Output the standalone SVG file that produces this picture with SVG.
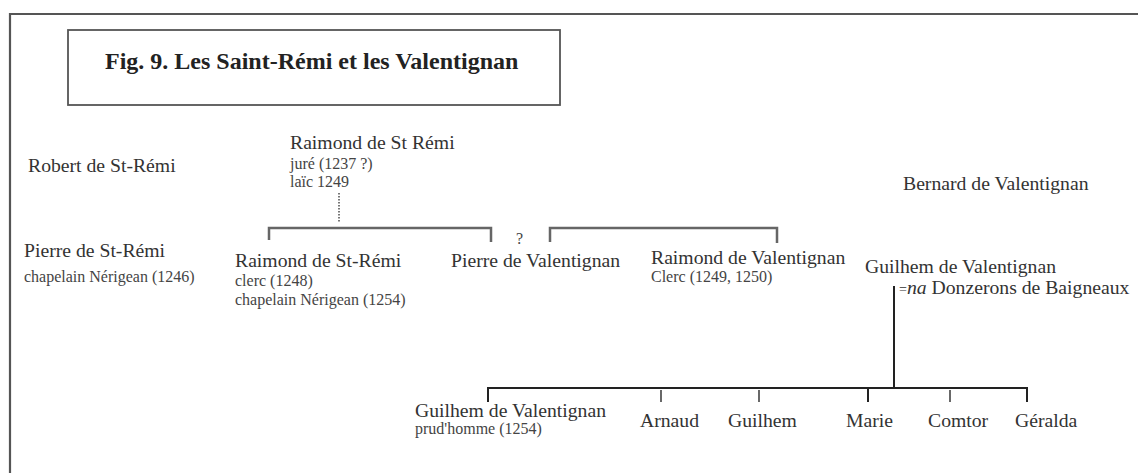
<svg xmlns="http://www.w3.org/2000/svg" width="1138" height="473" viewBox="0 0 1138 473">
<style>
text{font-family:"Liberation Serif","Times New Roman",serif;fill:#333}
.n{font-size:19.7px}
.s{font-size:16px;fill:#444}
.t{font-size:24px;font-weight:bold;fill:#222}
.br{fill:none;stroke:#666;stroke-width:2.5}
.bk{fill:none;stroke:#222;stroke-width:2}
.tk{fill:none;stroke:#444;stroke-width:1.6}
</style>
<rect x="0" y="0" width="1138" height="473" fill="#fff"/>
<g id="frame">
<path d="M10,480 V14 H1145" fill="none" stroke="#555" stroke-width="2.2"/>
</g>
<g id="title">
<rect x="68" y="30" width="492" height="75" fill="none" stroke="#555" stroke-width="1.8"/>
<text class="t" x="105" y="69">Fig. 9. Les Saint-Rémi et les Valentignan</text>
</g>
<g id="connectors">
<path d="M339,193 V223" fill="none" stroke="#777" stroke-width="2" stroke-dasharray="1.5,1.5"/>
<path class="br" d="M269,240 V228 H491 V242"/>
<path class="br" d="M550,242 V228 H777 V243"/>
<path class="bk" d="M894,286 V388"/>
<path class="bk" d="M488,402 V388 H1027 V402"/>
<path class="bk" d="M868,388 V402"/>
<path class="tk" d="M661,390 V402 M759,390 V402 M950,390 V402"/>
</g>
<g id="robert"><text class="n" x="28" y="172">Robert de St-Rémi</text></g>
<g id="pierre-st-remi">
<text class="n" x="24" y="257">Pierre de St-Rémi</text>
<text class="s" x="24" y="282">chapelain Nérigean (1246)</text>
</g>
<g id="raimond-st-remi-pere">
<text class="n" x="290" y="149">Raimond de St Rémi</text>
<text class="s" x="290" y="169">juré (1237 ?)</text>
<text class="s" x="290" y="187">laïc 1249</text>
</g>
<g id="raimond-st-remi">
<text class="n" x="235" y="267">Raimond de St-Rémi</text>
<text class="s" x="235" y="286">clerc (1248)</text>
<text class="s" x="235" y="305">chapelain Nérigean (1254)</text>
</g>
<g id="question"><text class="s" x="516" y="244">?</text></g>
<g id="pierre-valentignan"><text class="n" x="451" y="267">Pierre de Valentignan</text></g>
<g id="raimond-valentignan">
<text class="n" x="651" y="264">Raimond de Valentignan</text>
<text class="s" x="651" y="282">Clerc (1249, 1250)</text>
</g>
<g id="bernard"><text class="n" x="903" y="190">Bernard de Valentignan</text></g>
<g id="guilhem-pere">
<text class="n" x="865" y="273">Guilhem de Valentignan</text>
<text class="n" x="899" y="294"><tspan font-size="14">=</tspan><tspan font-style="italic">na</tspan> Donzerons de Baigneaux</text>
</g>
<g id="guilhem-fils">
<text class="n" x="415" y="417">Guilhem de Valentignan</text>
<text class="s" x="415" y="434">prud'homme (1254)</text>
</g>
<g id="arnaud"><text class="n" x="640" y="427">Arnaud</text></g>
<g id="guilhem"><text class="n" x="728" y="427">Guilhem</text></g>
<g id="marie"><text class="n" x="846" y="427">Marie</text></g>
<g id="comtor"><text class="n" x="928" y="427">Comtor</text></g>
<g id="geralda"><text class="n" x="1015" y="427">Géralda</text></g>
</svg>
